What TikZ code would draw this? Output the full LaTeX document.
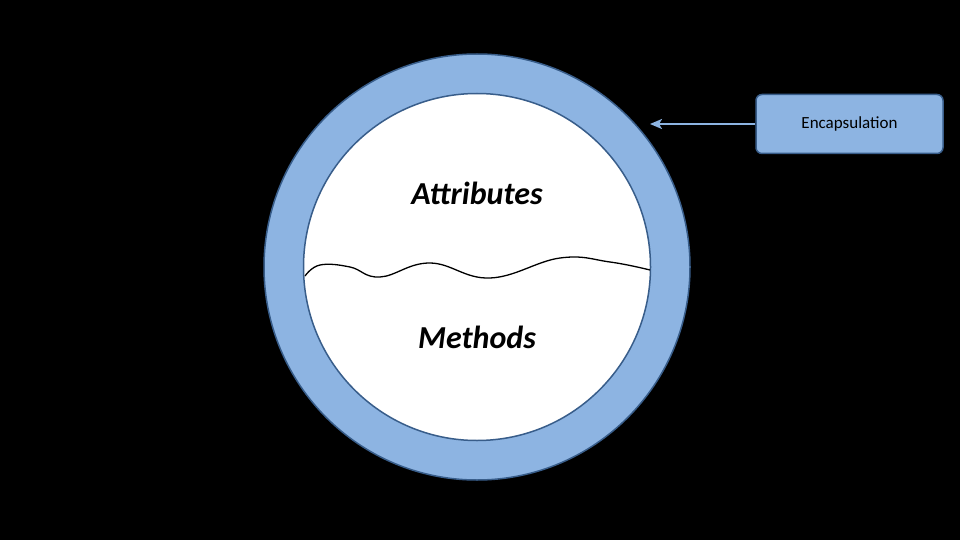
\documentclass[tikz,border=0pt]{standalone}
\usepackage{fontspec}
\setmainfont{Carlito}
\usetikzlibrary{arrows.meta}
\begin{document}
\begin{tikzpicture}[x=1pt,y=-1pt,
  lbl/.style={font=\bfseries\itshape\fontsize{32}{36}\selectfont, text=black}]
\fill[black] (0,0) rectangle (960,540);
\useasboundingbox (0,0) rectangle (960,540);
\node[circle, minimum size=426pt, fill={rgb,255:red,141;green,180;blue,226}, draw={rgb,255:red,56;green,93;blue,138}, line width=1.5pt] (outer) at (477,267) {};
\node[circle, minimum size=347pt, fill=white, draw={rgb,255:red,56;green,93;blue,138}, line width=1.5pt] (inner) at (477,267) {};
\draw[line width=1.3pt] plot[smooth, tension=0.7] coordinates {(305,276) (320,265) (350,267) (380,277) (430,263) (490,278) (560,258) (610,262) (650,270)};
\node[lbl] (attr) at (477,193) {Attributes};
\node[lbl] (meth) at (477,337) {Methods};
\node[draw={rgb,255:red,56;green,93;blue,138}, fill={rgb,255:red,141;green,180;blue,226}, rounded corners=6pt, line width=1.5pt, minimum width=187pt, minimum height=59pt, font=\fontsize{17}{20}\selectfont] (enc) at (849.5,124) {Encapsulation};
\coordinate (tip) at (650,124);
\draw[-{Stealth[length=12pt,width=10pt,inset=3pt]}, line width=2pt, draw={rgb,255:red,141;green,180;blue,226}] (enc.west) -- (tip);
\end{tikzpicture}
\end{document}
